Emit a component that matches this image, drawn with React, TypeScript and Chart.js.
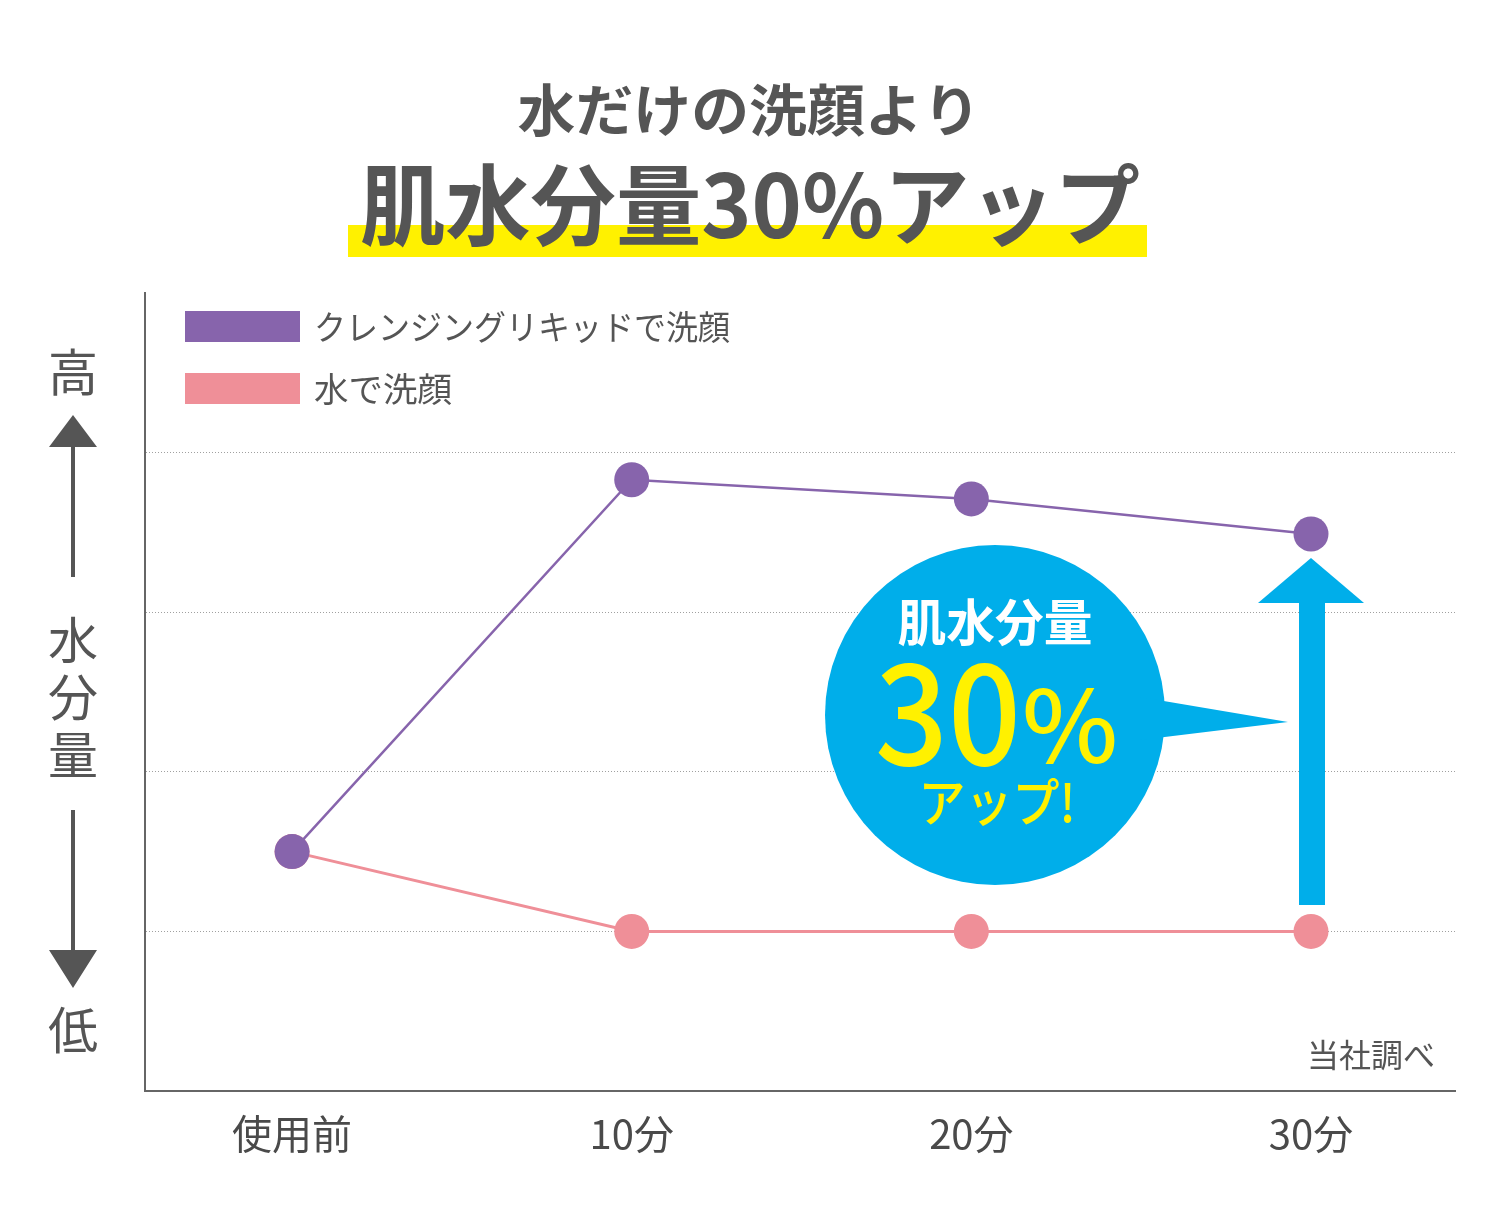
import React, { useEffect, useRef } from 'react';
import { Chart, registerables } from 'chart.js';

Chart.register(...registerables);

// ---- data ----
const categories = ['使用前', '10分', '20分', '30分'];
const cleansingValues = [1.5, 3.83, 3.71, 3.49];
const waterValues = [1.5, 1.0, 1.0, 1.0];
const seriesLabels = ['クレンジングリキッドで洗顔', '水で洗顔'];
const titleLines = ['水だけの洗顔より', '肌水分量30%アップ'];
const axisWords = ['高', '水', '分', '量', '低'];
const bubbleTexts = ['肌水分量', '30', '%', 'アップ!'];
const sourceNote = '当社調べ';

const PURPLE = '#8764AC';
const PINK = '#EF8F98';
const CYAN = '#00AEEA';
const YELLOW = '#FFF100';
const TEXT = '#555555';
const JP = '"Noto Sans CJK JP", "Noto Sans", sans-serif';

function fitText(ctx: CanvasRenderingContext2D, text: string, cx: number, cy: number, targetW: number, align: 'center' | 'left' = 'center') {
  const w = ctx.measureText(text).width;
  const s = targetW / w;
  ctx.save();
  ctx.translate(cx, cy);
  ctx.scale(s, 1);
  ctx.textAlign = align;
  ctx.fillText(text, 0, 0);
  ctx.restore();
}

const decorPlugin = {
  id: 'decor',
  beforeDraw(chart: any) {
    const ctx: CanvasRenderingContext2D = chart.ctx;
    ctx.save();
    ctx.fillStyle = '#ffffff';
    ctx.fillRect(0, 0, chart.width, chart.height);
    // yellow highlight
    ctx.fillStyle = YELLOW;
    ctx.fillRect(348, 225, 799, 32);
    // titles
    ctx.fillStyle = TEXT;
    ctx.textBaseline = 'middle';
    ctx.font = `bold 56px ${JP}`;
    fitText(ctx, titleLines[0], 749, 110, 463);
    ctx.font = `bold 88px ${JP}`;
    fitText(ctx, titleLines[1], 750, 205, 780);
    ctx.restore();
  },
  afterDraw(chart: any) {
    const ctx: CanvasRenderingContext2D = chart.ctx;
    ctx.save();
    // legend
    const ds = chart.data.datasets;
    const legendY = [326, 388];
    const legendW = [416, 138];
    ds.forEach((d: any, i: number) => {
      ctx.fillStyle = d.borderColor;
      ctx.fillRect(185, legendY[i] - 15, 115, 31);
      ctx.fillStyle = TEXT;
      ctx.font = `34px ${JP}`;
      ctx.textBaseline = 'middle';
      fitText(ctx, d.label, 314, legendY[i] + 1, legendW[i], 'left');
    });

    // left axis descriptor
    ctx.fillStyle = TEXT;
    ctx.font = `50px ${JP}`;
    ctx.textAlign = 'center';
    ctx.textBaseline = 'middle';
    const wordY = [372, 640, 697, 755, 1030];
    axisWords.forEach((w, i) => ctx.fillText(w, 73, wordY[i]));
    ctx.strokeStyle = TEXT;
    ctx.lineWidth = 4;
    ctx.beginPath();
    ctx.moveTo(73, 445); ctx.lineTo(73, 577);
    ctx.moveTo(73, 810); ctx.lineTo(73, 952);
    ctx.stroke();
    ctx.beginPath();
    ctx.moveTo(73, 415); ctx.lineTo(97, 447); ctx.lineTo(49, 447); ctx.closePath();
    ctx.moveTo(73, 988); ctx.lineTo(97, 950); ctx.lineTo(49, 950); ctx.closePath();
    ctx.fill();

    // blue arrow
    ctx.fillStyle = CYAN;
    ctx.fillRect(1299, 600, 26, 305);
    ctx.beginPath();
    ctx.moveTo(1311, 558); ctx.lineTo(1364, 603); ctx.lineTo(1258, 603); ctx.closePath();
    ctx.fill();

    // bubble
    ctx.beginPath();
    ctx.arc(995, 715, 170, 0, Math.PI * 2);
    ctx.fill();
    ctx.beginPath();
    ctx.moveTo(1140, 697); ctx.lineTo(1288, 722); ctx.lineTo(1140, 740); ctx.closePath();
    ctx.fill();

    ctx.fillStyle = '#ffffff';
    ctx.font = `bold 50px ${JP}`;
    ctx.textBaseline = 'middle';
    fitText(ctx, bubbleTexts[0], 995, 622, 195);
    ctx.fillStyle = YELLOW;
    ctx.font = `500 140px ${JP}`;
    ctx.textBaseline = 'alphabetic';
    fitText(ctx, bubbleTexts[1], 948, 765, 146);
    ctx.font = `500 100px ${JP}`;
    fitText(ctx, bubbleTexts[2], 1070, 763, 96);
    ctx.font = `500 52px ${JP}`;
    ctx.textBaseline = 'middle';
    fitText(ctx, bubbleTexts[3], 997, 802, 157);

    // source note
    ctx.fillStyle = TEXT;
    ctx.font = `32px ${JP}`;
    ctx.textAlign = 'right';
    ctx.textBaseline = 'middle';
    ctx.fillText(sourceNote, 1435, 1055);
    ctx.restore();
  },
};

export default function App() {
  const ref = useRef<HTMLCanvasElement | null>(null);
  useEffect(() => {
    document.body.style.margin = '0';
    const canvas = ref.current!;
    const chart = new Chart(canvas, {
      type: 'line',
      data: {
        datasets: [
          {
            label: seriesLabels[0],
            data: cleansingValues.map((v, i) => ({ x: i, y: v })),
            borderColor: PURPLE,
            backgroundColor: PURPLE,
            borderWidth: 2.5,
            pointRadius: 17.5,
            pointBorderWidth: 0,
            pointBackgroundColor: PURPLE,
            tension: 0,
          },
          {
            label: seriesLabels[1],
            data: waterValues.map((v, i) => ({ x: i, y: v })),
            borderColor: PINK,
            backgroundColor: PINK,
            borderWidth: 3,
            pointRadius: 17.5,
            pointBorderWidth: 0,
            pointBackgroundColor: PINK,
            tension: 0,
          },
        ],
      },
      options: {
        responsive: false,
        animation: false,
        devicePixelRatio: 1,
        layout: { padding: { left: 145, right: 45, top: 293, bottom: 30 } },
        plugins: { legend: { display: false }, tooltip: { enabled: false }, title: { display: false } },
        scales: {
          x: {
            type: 'linear',
            min: -0.433,
            max: 3.424,
            afterBuildTicks: (scale: any) => {
              scale.ticks = categories.map((_, i) => ({ value: i }));
            },
            ticks: {
              callback: (v: any) => categories[v as number] ?? '',
              color: '#4a4a4a',
              font: { size: 40, family: JP },
              padding: 19,
              maxRotation: 0,
              autoSkip: false,
            },
            grid: { color: 'rgba(0,0,0,0)', drawTicks: false },
            border: { display: true, color: '#666666', width: 2 },
          },
          y: {
            min: 0,
            max: 5,
            ticks: { display: false, stepSize: 1 },
            grid: {
              drawTicks: false,
              color: (c: any) => (c.tick && c.tick.value > 0 && c.tick.value < 5 ? '#a0a0a0' : 'rgba(0,0,0,0)'),
              lineWidth: 1,
            },
            border: { display: true, color: '#666666', width: 2, dash: [1, 2] as any },
          },
        },
      },
      plugins: [decorPlugin],
    } as any);
    return () => chart.destroy();
  }, []);
  return (
    <div style={{ width: 1500, height: 1207 }}>
      <canvas ref={ref} width={1500} height={1207} style={{ display: 'block' }} />
    </div>
  );
}
